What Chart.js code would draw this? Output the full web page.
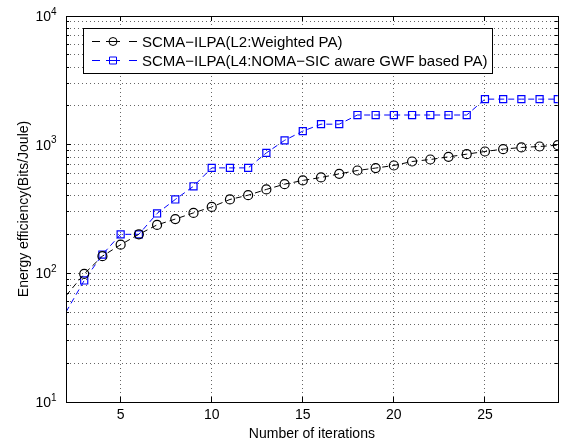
<!DOCTYPE html>
<html>
<head>
<meta charset="utf-8">
<script src="https://cdn.jsdelivr.net/npm/chart.js@4.4.0/dist/chart.umd.min.js"></script>
<style>
  html, body { margin: 0; padding: 0; background: #fff; }
  #wrap { width: 564px; height: 443px; }
</style>
</head>
<body>
<div id="wrap"><canvas id="chart" width="564" height="443"></canvas></div>
<script>
// Data
const iterations = [2, 3, 4, 5, 6, 7, 8, 9, 10, 11, 12, 13, 14, 15, 16, 17, 18, 19, 20, 21, 22, 23, 24, 25, 26, 27, 28, 29];
const weightedPA = [67, 99, 136, 167, 201, 238, 264, 295, 328, 375, 405, 449, 493, 527, 556, 593, 630, 658, 689, 740, 767, 804, 844, 885, 923, 951, 968, 991];
const gwfPA = [50, 88, 140, 201, 201, 292, 375, 475, 660, 660, 660, 863, 1080, 1274, 1443, 1443, 1700, 1700, 1700, 1700, 1700, 1700, 1700, 2259, 2259, 2259, 2259, 2259];
const seriesNames = ['SCMA\u2212ILPA(L2:Weighted PA)', 'SCMA\u2212ILPA(L4:NOMA\u2212SIC aware GWF based PA)'];
const xTicks = [5, 10, 15, 20, 25];
const yDecades = [10, 100, 1000, 10000];
const yExponents = ['1', '2', '3', '4'];
const xRange = [2, 29];

// Grid values for the log axis: 1..9 in every decade
const yGrid = [];
yDecades.forEach((d, i) => {
    if (i === yDecades.length - 1) { yGrid.push(d); return; }
    for (let m = 1; m <= 9; m++) yGrid.push(d * m);
});

const FONT = 'Liberation Sans, Arial, sans-serif';
Chart.defaults.font.family = FONT;
Chart.defaults.color = '#000';

function toPoints(values) {
    return iterations.map((it, i) => ({ x: it, y: values[i] }));
}

function align(p) {
    return Math.round(p - 0.5) + 0.5;
}

// Box, inward ticks, y labels with exponents and the legend
const framePlugin = {
    id: 'frame',
    afterDraw(chart) {
        const { ctx, chartArea: a, scales: { x, y } } = chart;
        ctx.save();
        ctx.strokeStyle = '#000';
        ctx.lineWidth = 1;
        ctx.setLineDash([]);

        ctx.beginPath();
        xTicks.forEach(v => {
            const px = align(x.getPixelForValue(v));
            ctx.moveTo(px, a.bottom); ctx.lineTo(px, a.bottom - 5);
            ctx.moveTo(px, a.top); ctx.lineTo(px, a.top + 5);
        });
        yGrid.forEach(v => {
            const py = align(y.getPixelForValue(v));
            const len = yDecades.includes(v) ? 5 : 3;
            ctx.moveTo(a.left, py); ctx.lineTo(a.left + len, py);
            ctx.moveTo(a.right, py); ctx.lineTo(a.right - len, py);
        });
        ctx.stroke();

        ctx.strokeRect(align(a.left), align(a.top), Math.round(a.right - a.left), Math.round(a.bottom - a.top));

        // y labels 10^n
        ctx.fillStyle = '#000';
        ctx.textBaseline = 'middle';
        yDecades.forEach((v, i) => {
            const py = y.getPixelForValue(v);
            ctx.font = '14px ' + FONT;
            ctx.textAlign = 'right';
            ctx.fillText('10', 51, py + 1);
            ctx.font = '10px ' + FONT;
            ctx.textAlign = 'left';
            ctx.fillText(yExponents[i], 51, py - 4);
        });

        // legend
        ctx.font = '15px ' + FONT;
        const textX = 142;
        const widths = seriesNames.map(s => ctx.measureText(s).width);
        const boxL = 83, boxT = 28, boxB = 73;
        const boxR = Math.round(textX + Math.max(...widths) + 5);
        ctx.fillStyle = '#fff';
        ctx.fillRect(boxL, boxT, boxR - boxL, boxB - boxT);
        ctx.strokeStyle = '#000';
        ctx.strokeRect(boxL + 0.5, boxT + 0.5, boxR - boxL, boxB - boxT);
        const rows = [41.5, 60.5];
        chart.data.datasets.forEach((ds, i) => {
            const cy = rows[i];
            ctx.strokeStyle = ds.borderColor;
            ctx.lineWidth = 1;
            ctx.beginPath();
            ctx.moveTo(92, cy); ctx.lineTo(100, cy);
            ctx.moveTo(106, cy); ctx.lineTo(120, cy);
            ctx.moveTo(129, cy); ctx.lineTo(137, cy);
            ctx.stroke();
            ctx.beginPath();
            if (ds.pointStyle === 'circle') {
                ctx.arc(113, cy, 4, 0, Math.PI * 2);
            } else {
                ctx.rect(109.5, cy - 3.5, 7, 7);
            }
            ctx.stroke();
            ctx.fillStyle = '#000';
            ctx.textAlign = 'left';
            ctx.textBaseline = 'middle';
            ctx.fillText(seriesNames[i], textX, cy + 1);
        });
        ctx.restore();
    }
};

const hideEdge = ctx => (ctx.raw && ctx.raw.x <= xRange[0]) ? 0 : null;

new Chart(document.getElementById('chart'), {
    type: 'line',
    data: {
        datasets: [{
            label: seriesNames[0],
            data: toPoints(weightedPA),
            borderColor: '#000',
            borderWidth: 1,
            borderDash: [6, 4],
            pointStyle: 'circle',
            pointRadius: ctx => hideEdge(ctx) ?? 4.5,
            pointBorderColor: '#000',
            pointBackgroundColor: 'rgba(0,0,0,0)',
            pointBorderWidth: 1.2,
            tension: 0
        }, {
            label: seriesNames[1],
            data: toPoints(gwfPA),
            borderColor: '#0000ff',
            borderWidth: 1,
            borderDash: [6, 4],
            pointStyle: 'rect',
            pointRadius: ctx => hideEdge(ctx) ?? 5,
            pointBorderColor: '#0000ff',
            pointBackgroundColor: 'rgba(0,0,0,0)',
            pointBorderWidth: 1.2,
            tension: 0
        }]
    },
    options: {
        responsive: false,
        animation: false,
        layout: { padding: { top: 16, right: 4, left: 0, bottom: 0 } },
        plugins: {
            legend: { display: false },
            tooltip: { enabled: false }
        },
        scales: {
            x: {
                type: 'linear',
                min: xRange[0],
                max: xRange[1],
                afterBuildTicks: s => { s.ticks = xTicks.map(v => ({ value: v })); },
                afterFit: s => { s.height = 41; },
                grid: { color: 'rgba(0,0,0,0.6)', lineWidth: 1, drawTicks: false },
                border: { display: false, dash: [1, 3] },
                ticks: { font: { size: 14 }, color: '#000', padding: 5, maxRotation: 0 },
                title: { display: true, text: 'Number of iterations', font: { size: 14 }, padding: { top: 2, bottom: 0 } }
            },
            y: {
                type: 'logarithmic',
                min: yDecades[0],
                max: yDecades[yDecades.length - 1],
                afterBuildTicks: s => { s.ticks = yGrid.map(v => ({ value: v })); },
                afterFit: s => { s.width = 66; },
                grid: { color: 'rgba(0,0,0,0.6)', lineWidth: 1, drawTicks: false },
                border: { display: false, dash: [1, 3] },
                ticks: { display: false },
                title: { display: true, text: 'Energy efficiency(Bits/Joule)', font: { size: 14 }, padding: { top: 16, bottom: 0 } }
            }
        }
    },
    plugins: [framePlugin]
});
</script>
</body>
</html>
